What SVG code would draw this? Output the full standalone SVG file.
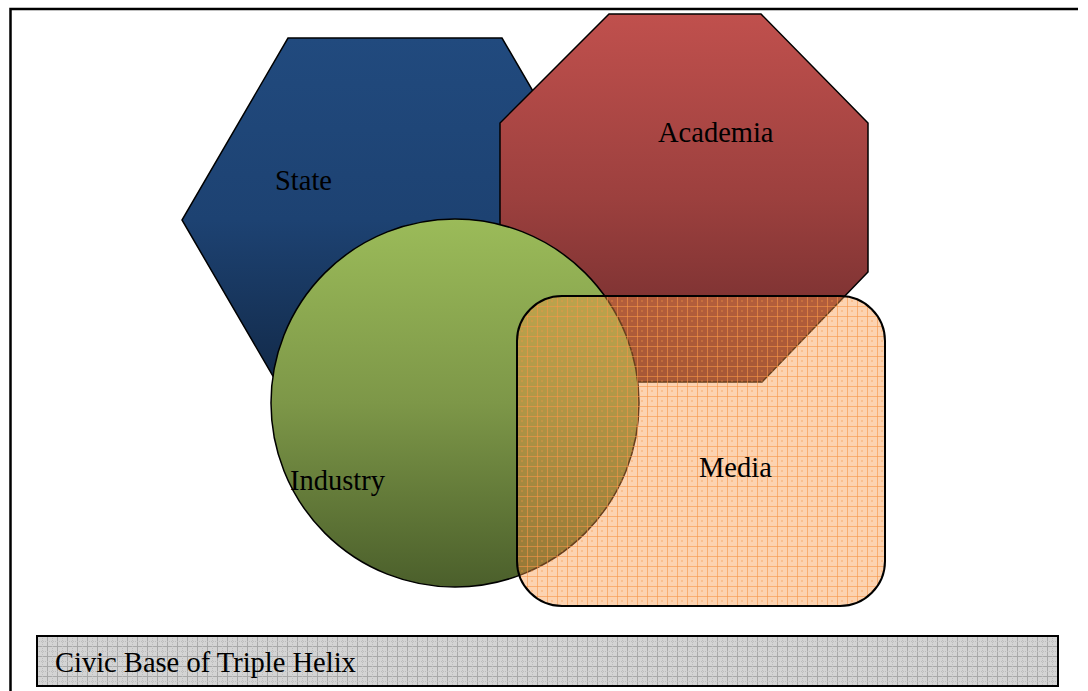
<svg xmlns="http://www.w3.org/2000/svg" width="1088" height="691" viewBox="0 0 1088 691">
<style>
.lbl{font-family:"Liberation Serif","Times New Roman",serif;font-size:28.5px;fill:#000}
.shape{stroke:#000;stroke-width:1.5}
</style>
<defs>
<linearGradient id="gState" x1="0" y1="0" x2="0" y2="1">
<stop offset="0" stop-color="#214a7e"/><stop offset="0.5" stop-color="#1d4272"/><stop offset="1" stop-color="#112744"/>
</linearGradient>
<linearGradient id="gAcad" x1="0" y1="0" x2="0" y2="1">
<stop offset="0" stop-color="#c0504d"/><stop offset="0.5" stop-color="#9c403e"/><stop offset="1" stop-color="#6a2a2b"/>
</linearGradient>
<linearGradient id="gInd" x1="0" y1="0" x2="0" y2="1">
<stop offset="0" stop-color="#9bbb59"/><stop offset="0.5" stop-color="#7d9748"/><stop offset="1" stop-color="#4b5f2b"/>
</linearGradient>
<pattern id="pMedia" width="10" height="10" patternUnits="userSpaceOnUse" x="517" y="296">
<rect width="10" height="10" fill="#f79646" fill-opacity="0.42"/>
<rect x="4" y="4" width="2" height="2" fill="#f79646" fill-opacity="0.3"/>
<path d="M0 0.5H10M0.5 0V10" stroke="#f79646" stroke-opacity="0.6" stroke-width="1"/>
</pattern>
<pattern id="pGray" width="10" height="10" patternUnits="userSpaceOnUse" x="37" y="636">
<rect width="10" height="10" fill="#d4d4d4"/>
<path d="M0 0.5H10M0.5 0V10" stroke="#a9a9a9" stroke-width="1"/>
<path d="M0 5.5H10M5.5 0V10" stroke="#bdbdbd" stroke-width="1" stroke-dasharray="1 1"/>
</pattern>
</defs>
<rect width="1088" height="691" fill="#fff"/>
<g id="frame">
<path d="M10.5 691V9H1078" fill="none" stroke="#000" stroke-width="2.5"/>
</g>
<g id="connectors"></g>
<g id="state">
<polygon class="shape" points="288,38 502,38 608,220 502,402 288,402 182,220" fill="url(#gState)"/>
<text class="lbl" x="275" y="190">State</text>
</g>
<g id="academia">
<polygon class="shape" points="609,14 761,14 868,123 868,272 762,382 609,382 500,272 500,123" fill="url(#gAcad)"/>
<text class="lbl" x="658" y="142">Academia</text>
</g>
<g id="industry">
<circle class="shape" cx="455" cy="403" r="184" fill="url(#gInd)"/>
</g>
<g id="media">
<rect x="517" y="296" width="368" height="310" rx="45" ry="45" fill="url(#pMedia)" stroke="#000" stroke-width="2"/>
<text class="lbl" x="699" y="477">Media</text>
</g>
<g id="industry-label">
<text class="lbl" x="290" y="490">Industry</text>
</g>
<g id="civic-base">
<rect x="37" y="636" width="1021" height="50" fill="url(#pGray)" stroke="#000" stroke-width="2"/>
<text class="lbl" x="55" y="672">Civic Base of Triple Helix</text>
</g>
</svg>
